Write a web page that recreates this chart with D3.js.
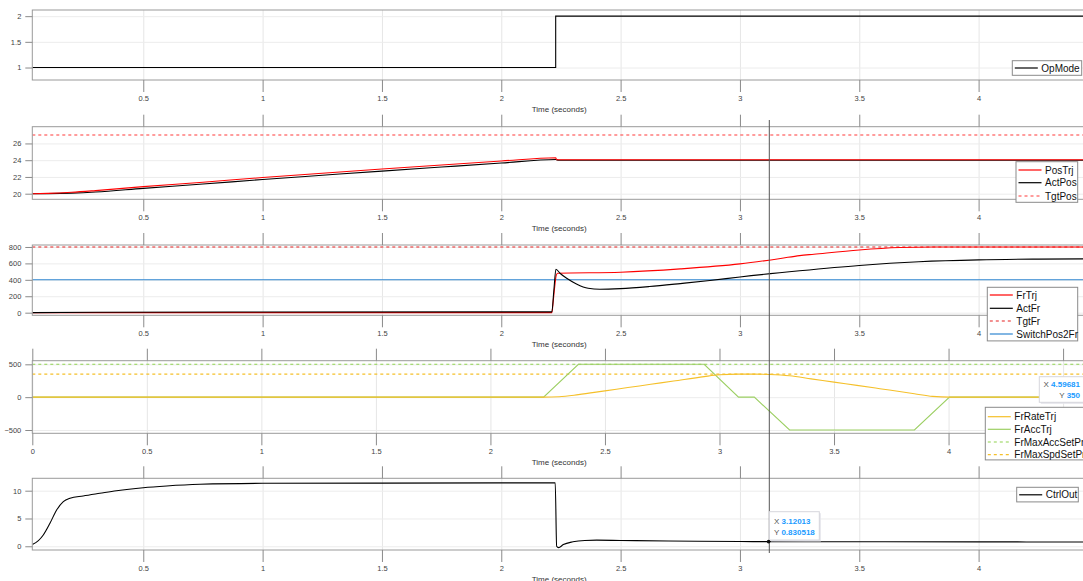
<!DOCTYPE html>
<html>
<head>
<meta charset="utf-8">
<script src="https://cdn.jsdelivr.net/npm/d3@7"></script>
<style>
body { margin: 0; background: #fff; }
svg { display: block; font-family: "Liberation Sans", Arial, sans-serif; }
</style>
</head>
<body>
<svg id="chart" width="1083" height="581"></svg>
<script>
// ---- data ----

// OpMode
var opModeT = [0.035, 2.228, 2.228, 4.45];
var opModeV = [1, 1, 2, 2];

// position loop
var posTrjT = [0.035, 0.1, 0.2, 0.3, 0.5, 0.75, 1.0, 1.25, 1.5, 1.75, 2.0, 2.228, 2.232, 4.45];
var posTrjV = [20.0, 20.04, 20.17, 20.37, 20.84, 21.37, 21.93, 22.44, 22.94, 23.43, 23.9, 24.3, 24.05, 24.05];
var actPosT = [0.035, 0.1, 0.2, 0.3, 0.5, 0.75, 1.0, 1.25, 1.5, 1.75, 2.0, 2.228, 2.24, 4.45];
var actPosV = [20.0, 20.01, 20.07, 20.2, 20.64, 21.15, 21.7, 22.2, 22.7, 23.18, 23.66, 24.08, 24.0, 24.0];
var tgtPosV = 27;

// force loop
var frTrjT = [0.035, 2.212, 2.218, 2.224, 2.23, 2.236, 2.5, 2.75, 3.0, 3.17, 3.25, 3.31, 3.5, 3.67, 3.81, 4.0, 4.45];
var frTrjV = [0, 0, 150, 320, 450, 480, 493, 533, 594, 660, 695, 712, 764, 793, 800, 800, 800];
var actFrT = [0.035, 0.3, 1.0, 2.0, 2.212, 2.22, 2.229, 2.246, 2.274, 2.315, 2.364, 2.413, 2.5, 2.62, 2.75, 2.874, 3.0, 3.25, 3.5, 3.75, 4.0, 4.25, 4.45];
var actFrV = [0, 5, 8, 10, 10, 260, 529, 480, 419, 350, 297, 285, 293, 318, 354, 391, 435, 510, 575, 620, 643, 652, 655];
var tgtFrV = 800;
var switchPos2FrV = 400;

// force rate / acceleration
var frRateT = [0, 2.232, 2.30, 2.384, 2.5, 2.6, 2.7, 2.8, 2.933, 3.0, 3.083, 3.152, 3.22, 3.306, 3.4, 3.5, 3.6, 3.7, 3.851, 3.93, 4.004, 4.6];
var frRateV = [0, 0, 6, 38, 96, 146, 196, 246, 313, 340, 350, 350, 345, 326, 279, 229, 179, 129, 53, 12, 0, 0];
var frAccT = [0, 2.232, 2.384, 2.933, 3.083, 3.152, 3.306, 3.851, 4.004, 4.6];
var frAccV = [0, 0, 500, 500, 0, 0, -500, -500, 0, 0];
var frMaxAccV = 500;
var frMaxSpdV = 350;

// controller output
var ctrlOutT = [0.035, 0.039, 0.081, 0.109, 0.137, 0.165, 0.193, 0.248, 0.318, 0.388, 0.5, 0.598, 0.737, 1.0, 1.5, 2.0, 2.226, 2.232, 2.24, 2.26, 2.3, 2.35, 2.4, 2.5, 2.7, 3.0, 3.12, 3.5, 4.0, 4.2, 4.45];
var ctrlOutV = [0.35, 0.41, 2.03, 4.14, 6.53, 8.03, 8.63, 9.05, 9.53, 10.0, 10.54, 10.85, 11.15, 11.33, 11.37, 11.4, 11.4, 0.0, -0.25, 0.3, 0.8, 1.05, 1.1, 1.05, 0.95, 0.86, 0.83, 0.81, 0.8, 0.78, 0.76];

// ticks
var xTicksA = [0.5, 1, 1.5, 2, 2.5, 3, 3.5, 4];
var xTicksB = [0, 0.5, 1, 1.5, 2, 2.5, 3, 3.5, 4, 4.5];

// data tips
var tipFr = [4.59681, 350];
var tipCtrl = [3.12013, 0.830518];

// ---- drawing ----
var svg = d3.select("#chart");
var left = 32.3, right = 1086;

function flat(t0, t1, v) { return { t: [t0, t1], v: [v, v] }; }

var panels = [
  { top: 10, bottom: 80, xd: [0.035, 4.45], yd: [0.757, 2.12], yt: [1, 1.5, 2], xt: xTicksA, noTop: true,
    series: [ { t: opModeT, v: opModeV, c: "#000", name: "OpMode", curve: d3.curveLinear } ],
    legend: { x: 1012.3, y: 60.7, w: 69.4, rows: [68] } },
  { top: 126.7, bottom: 199.3, xd: [0.035, 4.45], yd: [19.33, 28], yt: [20, 22, 24, 26], xt: xTicksA,
    series: [
      { t: actPosT, v: actPosV, c: "#000", name: "ActPos", order: 1 },
      { t: posTrjT, v: posTrjV, c: "#ff0000", name: "PosTrj", order: 0 },
      Object.assign(flat(0.035, 4.45, tgtPosV), { c: "#ff3b3b", dash: "3,3", name: "TgtPos", order: 2 }) ],
    legend: { x: 1016, y: 161.7, w: 61.7, rows: [170, 182.7, 196] } },
  { top: 245, bottom: 315.3, xd: [0.035, 4.45], yd: [-32, 824], yt: [0, 200, 400, 600, 800], xt: xTicksA,
    series: [
      Object.assign(flat(0.035, 4.45, switchPos2FrV), { c: "#2f86d0", name: "SwitchPos2Fr", order: 3 }),
      Object.assign(flat(0.035, 4.45, tgtFrV), { c: "#e62020", dash: "3,3", name: "TgtFr", order: 2 }),
      { t: frTrjT, v: frTrjV, c: "#ff0000", name: "FrTrj", order: 0 },
      { t: actFrT, v: actFrV, c: "#000", name: "ActFr", order: 1 } ],
    legend: { x: 987.3, y: 287.3, w: 90.4, rows: [295, 308.3, 321, 334] } },
  { top: 360.7, bottom: 433.3, xd: [0, 4.6], yd: [-550, 555], yt: [-500, 0, 500], xt: xTicksB,
    series: [
      Object.assign(flat(0, 4.6, frMaxAccV), { c: "#8fd24f", dash: "3,3", name: "FrMaxAccSetPr", order: 2 }),
      Object.assign(flat(0, 4.6, frMaxSpdV), { c: "#f5c02a", dash: "3,3", name: "FrMaxSpdSetPr", order: 3 }),
      { t: frAccT, v: frAccV, c: "#9ccf63", name: "FrAccTrj", order: 1, curve: d3.curveLinear },
      { t: frRateT, v: frRateV, c: "#f5c02a", name: "FrRateTrj", order: 0 } ],
    legend: { x: 985.3, y: 407.3, w: 110, rows: [416.7, 429.3, 442, 454.7] } },
  { top: 478.3, bottom: 550, xd: [0.035, 4.45], yd: [-0.67, 12.23], yt: [0, 5, 10], xt: xTicksA,
    series: [ { t: ctrlOutT, v: ctrlOutV, c: "#000", name: "CtrlOut" } ],
    legend: { x: 1016.7, y: 487.3, w: 61.6, rows: [494.8] } }
];

// labels that would sit under a legend are left blank, as in the scope view
var fmt = function(d) { return d === 4.5 ? "" : d3.format("~g")(d); };

panels.forEach(function(p, i) {
  var x = d3.scaleLinear().domain(p.xd).range([left, right]);
  var y = d3.scaleLinear().domain(p.yd).range([p.bottom, p.top]);
  p.x = x; p.y = y;
  var h = p.bottom - p.top;
  var g = svg.append("g");

  // grid
  g.append("g").attr("transform", "translate(0," + p.bottom + ")")
    .call(d3.axisBottom(x).tickValues(p.xt).tickSize(-h).tickFormat(""))
    .call(function(a) { a.select(".domain").remove(); a.selectAll("line").attr("stroke", "#e6e6e6"); });
  g.append("g").attr("transform", "translate(" + left + ",0)")
    .call(d3.axisLeft(y).tickValues(p.yt).tickSize(-(right - left)).tickFormat(""))
    .call(function(a) { a.select(".domain").remove(); a.selectAll("line").attr("stroke", "#ececec"); });

  // lines, clipped to the axes
  var cid = "clip" + i;
  svg.append("clipPath").attr("id", cid).append("rect")
    .attr("x", left).attr("y", p.top).attr("width", right - left).attr("height", h);
  var lg = g.append("g").attr("clip-path", "url(#" + cid + ")");
  p.series.forEach(function(s) {
    var pts = s.t.map(function(t, k) { return [t, s.v[k]]; });
    var line = d3.line().x(function(d) { return x(d[0]); }).y(function(d) { return y(d[1]); })
      .curve(s.curve || d3.curveMonotoneX);
    lg.append("path").datum(pts).attr("d", line)
      .attr("fill", "none").attr("stroke", s.c).attr("stroke-width", 1.1)
      .attr("stroke-dasharray", s.dash || null);
  });

  // box
  g.append("rect").attr("x", left).attr("y", p.top).attr("width", right - left).attr("height", h)
    .attr("fill", "none").attr("stroke", "#9a9a9a");

  // axes
  var axes = [];
  axes.push(g.append("g").attr("transform", "translate(0," + p.bottom + ")")
    .call(d3.axisBottom(x).tickValues(p.xt).tickSize(12).tickPadding(3.5).tickFormat(fmt)));
  if (!p.noTop) {
    axes.push(g.append("g").attr("transform", "translate(0," + p.top + ")")
      .call(d3.axisTop(x).tickValues(p.xt).tickSize(12).tickFormat("")));
  }
  axes.push(g.append("g").attr("transform", "translate(" + left + ",0)")
    .call(d3.axisLeft(y).tickValues(p.yt).tickSize(7).tickPadding(4).tickFormat(fmt)));
  axes.forEach(function(a) {
    a.select(".domain").remove();
    a.selectAll("line").attr("stroke", "#8a8a8a");
    a.selectAll("text").attr("fill", "#444").style("font-size", "7.5px").style("font-family", "Liberation Sans, Arial, sans-serif");
  });

  g.append("text").attr("x", (left + right) / 2).attr("y", p.bottom + 32)
    .attr("text-anchor", "middle").attr("fill", "#333").style("font-size", "8px")
    .text("Time (seconds)");
});

// legends (drawn after all panels so they sit on top)
panels.forEach(function(p) {
  var L = p.legend;
  var ordered = p.series.slice().sort(function(a, b) { return (a.order || 0) - (b.order || 0); });
  var hgt = (L.rows[L.rows.length - 1] - L.rows[0]) + 14.6;
  var lg = svg.append("g");
  lg.append("rect").attr("x", L.x).attr("y", L.y).attr("width", L.w).attr("height", hgt)
    .attr("fill", "#fff").attr("stroke", "#8a8a8a");
  ordered.forEach(function(s, k) {
    var ry = L.rows[k];
    lg.append("line").attr("x1", L.x + 2.5).attr("x2", L.x + 25.5).attr("y1", ry).attr("y2", ry)
      .attr("stroke", s.c).attr("stroke-width", 1.2).attr("stroke-dasharray", s.dash || null);
    lg.append("text").attr("x", L.x + 29).attr("y", ry).attr("dy", "0.35em")
      .attr("fill", "#111").style("font-size", "10px").text(s.name);
  });
});

// data cursor line
var p5 = panels[4];
svg.append("line").attr("x1", p5.x(tipCtrl[0]) + 0.7).attr("x2", p5.x(tipCtrl[0]) + 0.7)
  .attr("y1", 120).attr("y2", 553).attr("stroke", "#555").attr("stroke-width", 1);

function dataTip(bx, by, bw, bh, rows, anchor) {
  var g = svg.append("g");
  g.append("rect").attr("x", bx + 1.5).attr("y", by + 1.5).attr("width", bw).attr("height", bh)
    .attr("fill", "#e4e4ea");
  g.append("rect").attr("x", bx).attr("y", by).attr("width", bw).attr("height", bh)
    .attr("fill", "#fff").attr("stroke", "#d6d6dc");
  rows.forEach(function(r) {
    var t = g.append("text").attr("x", r.x).attr("y", r.y).attr("dy", "0.35em")
      .attr("text-anchor", anchor).style("font-size", "8px");
    t.append("tspan").attr("fill", "#555").text(r.k + " ");
    t.append("tspan").attr("fill", "#1a9bff").attr("font-weight", "bold").text(r.v);
  });
}

dataTip(1039.3, 376.7, 50, 25.6, [
  { x: 1080, y: 384.3, k: "X", v: String(tipFr[0]) },
  { x: 1080, y: 395, k: "Y", v: String(tipFr[1]) }
], "end");

dataTip(769.3, 511.7, 50, 28.3, [
  { x: 774, y: 521, k: "X", v: String(tipCtrl[0]) },
  { x: 774, y: 531.7, k: "Y", v: String(tipCtrl[1]) }
], "start");

svg.append("circle").attr("cx", p5.x(tipCtrl[0])).attr("cy", p5.y(tipCtrl[1]))
  .attr("r", 1.8).attr("fill", "#111");
</script>
</body>
</html>
